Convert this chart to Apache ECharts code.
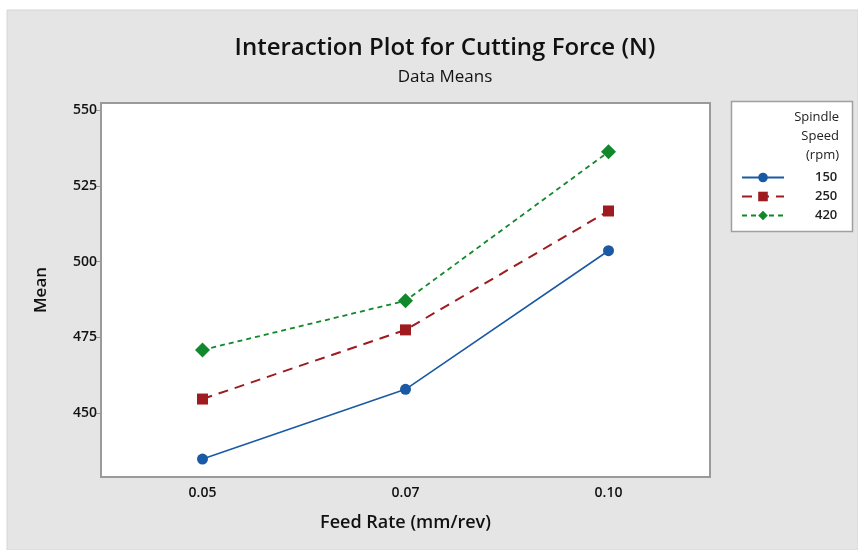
<!DOCTYPE html>
<html><head><meta charset="utf-8">
<script src="https://cdn.jsdelivr.net/npm/echarts@6/dist/echarts.min.js"></script>
<style>html,body{margin:0;padding:0;background:#fff}#c{width:858px;height:550px}</style>
</head><body><div id="c"></div>
<script>
const categories = ['0.05', '0.07', '0.10'];
const seriesNames = ['150', '250', '420'];
const speed150 = [434.9, 457.9, 503.6];
const speed250 = [454.7, 477.5, 516.7];
const speed420 = [470.9, 487.1, 536.2];
const yTicks = [450, 475, 500, 525, 550];

const font = '"Open Sans", "Noto Sans", sans-serif';
const chart = echarts.init(document.getElementById('c'), null, {renderer: 'canvas'});
const colors = ['#1a5aa5', '#9e1b1f', '#11882c'];
chart.setOption({
  animation: false,
  backgroundColor: '#ffffff',
  title: [
    {text: 'Interaction Plot for Cutting Force (N)', left: 440, top: 31, textAlign: 'center',
     textStyle: {fontFamily: font, fontSize: 24, fontWeight: 600, color: '#111'}},
    {text: 'Data Means', left: 440, top: 64, textAlign: 'center',
     textStyle: {fontFamily: font, fontSize: 17, fontWeight: 500, color: '#111'}}
  ],
  graphic: [
    {type: 'rect', z: -10, shape: {x: 7, y: 10, width: 851, height: 540},
     style: {fill: '#e5e5e5', stroke: '#d6d6d6', lineWidth: 1}},
    {type: 'rect', z: 1, shape: {x: 731.5, y: 101.5, width: 121, height: 130},
     style: {fill: '#ffffff', stroke: '#a0a0a0', lineWidth: 1.5}},
    {type: 'text', z: 2, style: {x: 839, y: 111, text: 'Spindle', textAlign: 'right',
     fontFamily: font, fontSize: 13, fontWeight: 500, fill: '#222'}},
    {type: 'text', z: 2, style: {x: 839, y: 130, text: 'Speed', textAlign: 'right',
     fontFamily: font, fontSize: 13, fontWeight: 500, fill: '#222'}},
    {type: 'text', z: 2, style: {x: 839, y: 149, text: '(rpm)', textAlign: 'right',
     fontFamily: font, fontSize: 13, fontWeight: 500, fill: '#222'}}
  ],
  legend: {
    orient: 'vertical', left: 736, top: 166, itemGap: 6, itemWidth: 42, itemHeight: 12,
    z: 5,
    textStyle: {fontFamily: font, fontSize: 13, fontWeight: 600, color: '#222', padding: [0, 0, 0, 26]},
    data: seriesNames
  },
  grid: {left: 101, top: 103, right: 148, bottom: 73, show: true,
         backgroundColor: '#ffffff', borderColor: '#9a9a9a', borderWidth: 2},
  xAxis: {
    type: 'category', data: categories, boundaryGap: true,
    name: 'Feed Rate (mm/rev)', nameLocation: 'middle', nameGap: 37,
    nameTextStyle: {fontFamily: font, fontSize: 18, fontWeight: 600, color: '#111'},
    axisLine: {lineStyle: {color: '#9a9a9a', width: 2}},
    axisTick: {alignWithLabel: true, length: 5, lineStyle: {color: '#9a9a9a'}},
    axisLabel: {fontFamily: font, fontSize: 14, fontWeight: 600, color: '#111', margin: 9}
  },
  yAxis: {
    type: 'value', min: 429, max: 552.3,
    name: 'Mean', nameLocation: 'middle', nameGap: 51, nameRotate: 90,
    nameTextStyle: {fontFamily: font, fontSize: 17, fontWeight: 600, color: '#111'},
    splitLine: {show: false},
    axisLine: {show: true, lineStyle: {color: '#9a9a9a', width: 2}},
    axisTick: {show: true, length: 5, customValues: yTicks, lineStyle: {color: '#9a9a9a'}},
    axisLabel: {fontFamily: font, fontSize: 14, fontWeight: 600, color: '#111', margin: 4, customValues: yTicks}
  },
  series: [
    {name: seriesNames[0], type: 'line', data: speed150, color: colors[0],
     symbol: 'circle', symbolSize: 11,
     lineStyle: {width: 1.6, type: 'solid'}},
    {name: seriesNames[1], type: 'line', data: speed250, color: colors[1],
     symbol: 'rect', symbolSize: 11,
     lineStyle: {width: 2, type: [10, 7]}},
    {name: seriesNames[2], type: 'line', data: speed420, color: colors[2],
     symbol: 'diamond', symbolSize: 15,
     lineStyle: {width: 1.8, type: [5, 4]}}
  ]
});
</script></body></html>
